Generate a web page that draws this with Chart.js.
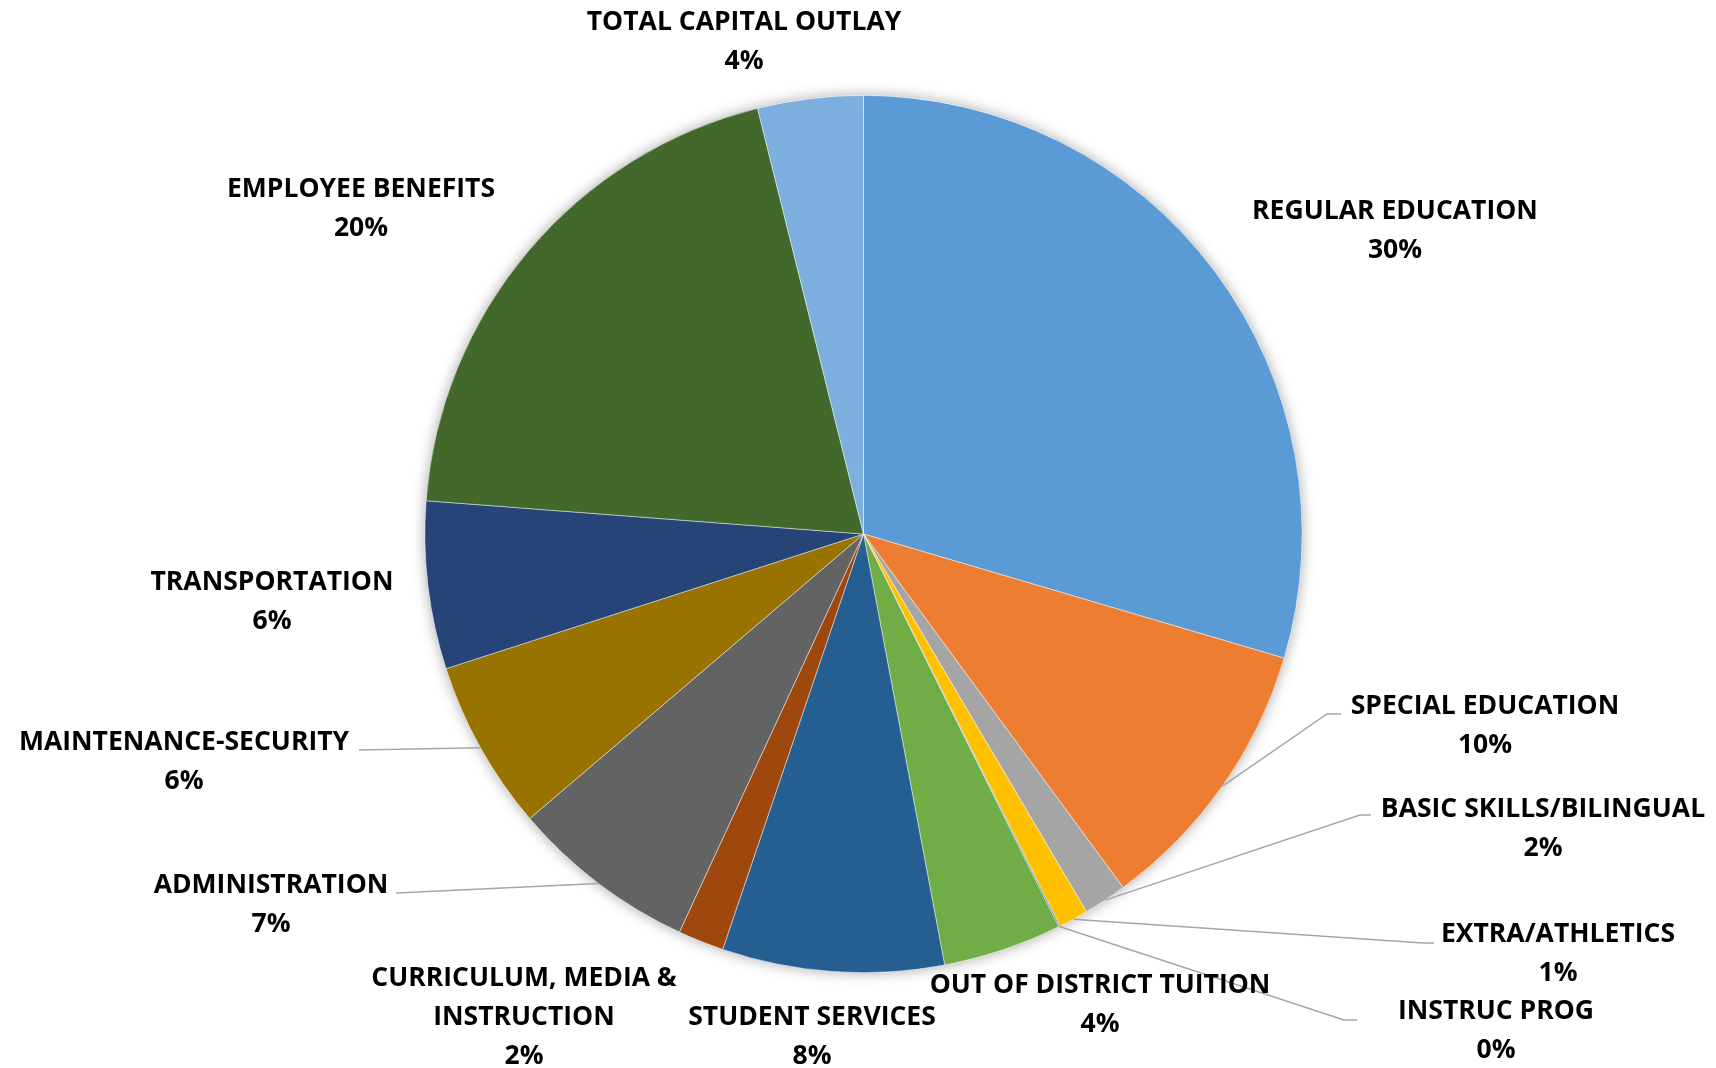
<!DOCTYPE html>
<html>
<head>
<meta charset="utf-8">
<title>Budget Appropriations</title>
<script src="https://cdn.jsdelivr.net/npm/chart.js@4.4.0/dist/chart.umd.min.js"></script>
<style>
    html, body { margin: 0; padding: 0; background: #fff; }
    #wrap { width: 1716px; height: 1068px; position: relative; }
</style>
</head>
<body>
<div id="wrap"><canvas id="budgetPie"></canvas></div>
<script>
// 预算类别 (clockwise from 12 o'clock)
const categories = [
    'REGULAR EDUCATION', 'SPECIAL EDUCATION', 'BASIC SKILLS/BILINGUAL', 'EXTRA/ATHLETICS',
    'INSTRUC PROG', 'OUT OF DISTRICT TUITION', 'STUDENT SERVICES', 'CURRICULUM, MEDIA & INSTRUCTION',
    'ADMINISTRATION', 'MAINTENANCE-SECURITY', 'TRANSPORTATION', 'EMPLOYEE BENEFITS', 'TOTAL CAPITAL OUTLAY'
];
// share of the budget, percent
const shares = [29.7, 10.4, 1.6, 1.1, 0.05, 4.4, 8.2, 1.7, 6.9, 6.3, 6.2, 20.0, 3.9];

const sliceColors = [
    '#5B9BD5', '#ED7D31', '#A5A5A5', '#FFC000', '#4472C4', '#70AD47', '#255E91',
    '#9E480E', '#636363', '#997300', '#264478', '#43682B', '#7CAFDD'
];

// label placement: centre x, first line y, text lines, optional leader (elbow, end)
const labelLayout = [
    { x: 1395, y: 212, lines: ['REGULAR EDUCATION'] },
    { x: 1485, y: 707, lines: ['SPECIAL EDUCATION'], leader: [[1327, 714], [1341, 714]] },
    { x: 1543, y: 810, lines: ['BASIC SKILLS/BILINGUAL'], leader: [[1360, 815], [1371, 815]] },
    { x: 1558, y: 935, lines: ['EXTRA/ATHLETICS'], leader: [[1423, 943], [1434, 943]] },
    { x: 1496, y: 1012, lines: ['INSTRUC PROG'], leader: [[1344, 1020], [1357, 1020]] },
    { x: 1100, y: 986, lines: ['OUT OF DISTRICT TUITION'] },
    { x: 812, y: 1018, lines: ['STUDENT SERVICES'] },
    { x: 524, y: 979, lines: ['CURRICULUM, MEDIA &', 'INSTRUCTION'] },
    { x: 271, y: 886, lines: ['ADMINISTRATION'], leader: [[396, 893], [396, 893]] },
    { x: 184, y: 743, lines: ['MAINTENANCE-SECURITY'], leader: [[359, 750], [359, 750]] },
    { x: 272, y: 583, lines: ['TRANSPORTATION'] },
    { x: 361, y: 190, lines: ['EMPLOYEE BENEFITS'] },
    { x: 744, y: 23, lines: ['TOTAL CAPITAL OUTLAY'] }
];

const LINE_H = 39;
const TEXT_SCALE_X = 1.02;

// soft shadow under the whole pie
const pieShadow = {
    id: 'pieShadow',
    beforeDatasetsDraw(chart) {
        const arc = chart.getDatasetMeta(0).data[0];
        if (!arc) return;
        const { x, y, outerRadius } = arc.getProps(['x', 'y', 'outerRadius'], true);
        const ctx = chart.ctx;
        ctx.save();
        ctx.shadowColor = 'rgba(0,0,0,0.35)';
        ctx.shadowBlur = 14;
        ctx.beginPath();
        ctx.arc(x, y, outerRadius, 0, Math.PI * 2);
        ctx.fillStyle = '#fff';
        ctx.fill();
        ctx.restore();
    }
};

// category + percent labels with leader lines
const sliceLabels = {
    id: 'sliceLabels',
    afterDatasetsDraw(chart) {
        const ctx = chart.ctx;
        const meta = chart.getDatasetMeta(0);
        const values = chart.data.datasets[0].data;
        const total = values.reduce((a, b) => a + b, 0);

        meta.data.forEach((arc, i) => {
            const lay = labelLayout[i];
            const p = arc.getProps(['x', 'y', 'startAngle', 'endAngle', 'outerRadius'], true);

            if (lay.leader) {
                const mid = (p.startAngle + p.endAngle) / 2;
                ctx.save();
                ctx.strokeStyle = '#a6a6a6';
                ctx.lineWidth = 1.5;
                ctx.beginPath();
                ctx.moveTo(p.x + Math.cos(mid) * p.outerRadius, p.y + Math.sin(mid) * p.outerRadius);
                lay.leader.forEach(pt => ctx.lineTo(pt[0], pt[1]));
                ctx.stroke();
                ctx.restore();
            }

            const pct = Math.round(values[i] / total * 100) + '%';
            const lines = lay.lines.concat([pct]);
            ctx.save();
            ctx.font = 'bold 26px "Open Sans", sans-serif';
            ctx.fillStyle = '#000';
            ctx.textAlign = 'center';
            ctx.textBaseline = 'middle';
            lines.forEach((t, k) => {
                ctx.save();
                ctx.translate(lay.x, lay.y + k * LINE_H);
                ctx.scale(TEXT_SCALE_X, 1);
                ctx.fillText(t, 0, 0);
                ctx.restore();
            });
            ctx.restore();
        });
    }
};

new Chart(document.getElementById('budgetPie'), {
    type: 'pie',
    data: {
        labels: categories,
        datasets: [{
            data: shares,
            backgroundColor: sliceColors,
            borderColor: 'rgba(255,255,255,0.6)',
            borderWidth: 0.75
        }]
    },
    options: {
        responsive: true,
        maintainAspectRatio: false,
        animation: false,
        layout: {
            padding: { top: 95, bottom: 95, left: 11, right: 0 }
        },
        plugins: {
            legend: { display: false },
            tooltip: { enabled: false }
        }
    },
    plugins: [pieShadow, sliceLabels]
});
</script>
</body>
</html>
